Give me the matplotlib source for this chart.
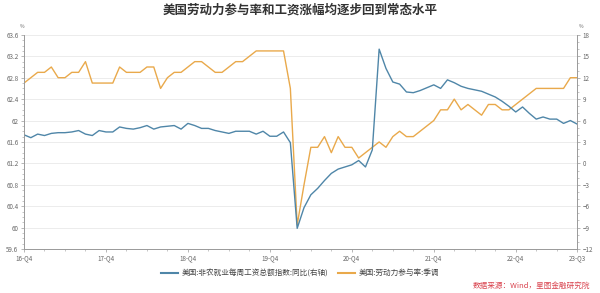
import matplotlib
matplotlib.use("Agg")
import matplotlib.pyplot as plt
from matplotlib.ticker import MultipleLocator

plt.rcParams['font.family'] = ['Noto Sans CJK SC', 'DejaVu Sans']

# monthly, 2016-12 .. 2023-09
tick_labels = ['16-Q4', '17-Q4', '18-Q4', '19-Q4', '20-Q4', '21-Q4', '22-Q4', '23-Q3']
tick_pos = [0, 12, 24, 36, 48, 60, 72, 81]

# 美国:劳动力参与率:季调 (left axis, %)
lfpr = [62.7, 62.8, 62.9, 62.9, 63.0, 62.8, 62.8, 62.9, 62.9, 63.1,
        62.7, 62.7, 62.7, 62.7, 63.0, 62.9, 62.9, 62.9, 63.0, 63.0,
        62.6, 62.8, 62.9, 62.9, 63.0, 63.1, 63.1, 63.0, 62.9, 62.9,
        63.0, 63.1, 63.1, 63.2, 63.3, 63.3, 63.3, 63.3, 63.3, 62.6,
        60.05, 60.8, 61.5, 61.5, 61.7, 61.4, 61.7, 61.5, 61.5, 61.3,
        61.4, 61.5, 61.6, 61.5, 61.7, 61.8, 61.7, 61.7, 61.8, 61.9,
        62.0, 62.2, 62.2, 62.4, 62.2, 62.3, 62.2, 62.1, 62.3, 62.3,
        62.2, 62.2, 62.3, 62.4, 62.5, 62.6, 62.6, 62.6, 62.6, 62.6,
        62.8, 62.8]

# 美国:非农就业每周工资总额指数:同比 (right axis, %)
payroll_yoy = [4.0, 3.6, 4.1, 3.9, 4.2, 4.3, 4.3, 4.4, 4.6, 4.1,
               3.9, 4.6, 4.4, 4.4, 5.1, 4.9, 4.8, 5.0, 5.3, 4.8,
               5.1, 5.2, 5.3, 4.8, 5.6, 5.3, 4.9, 4.9, 4.6, 4.4,
               4.2, 4.5, 4.5, 4.5, 4.1, 4.5, 3.8, 3.8, 4.4, 2.9,
               -9.1, -6.2, -4.4, -3.5, -2.4, -1.4, -0.8, -0.5, -0.2, 0.4,
               -0.5, 1.9, 16.0, 13.3, 11.4, 11.1, 10.0, 9.9, 10.2, 10.6,
               11.0, 10.5, 11.7, 11.3, 10.8, 10.5, 10.3, 10.1, 9.7, 9.3,
               8.7, 8.0, 7.2, 7.9, 7.0, 6.2, 6.5, 6.2, 6.2, 5.6,
               6.0, 5.5]

blue = '#4f86a8'
orange = '#e9a94b'
axis_c = '#9a9a9a'
text_c = '#666666'

fig = plt.figure(figsize=(6, 2.93), dpi=100)
ax = fig.add_axes([0.04, 0.15, 0.922, 0.731])
ax2 = ax.twinx()

x = list(range(len(lfpr)))
ax2.plot(x, payroll_yoy, color=blue, lw=1.0)
ax.plot(x, lfpr, color=orange, lw=1.0)

ax.set_xlim(0, 81)
ax.set_ylim(59.6, 63.6)
ax2.set_ylim(-12, 18)
ax.yaxis.set_major_locator(MultipleLocator(0.4))
ax.yaxis.set_minor_locator(MultipleLocator(0.1))
ax2.yaxis.set_major_locator(MultipleLocator(3))
ax2.yaxis.set_minor_locator(MultipleLocator(1))
ax.set_yticks([59.6, 60, 60.4, 60.8, 61.2, 61.6, 62, 62.4, 62.8, 63.2, 63.6])
ax.set_yticklabels(['59.6', '60', '60.4', '60.8', '61.2', '61.6', '62', '62.4', '62.8', '63.2', '63.6'])
ax.set_xticks(tick_pos)
ax.set_xticklabels(tick_labels)
ax.xaxis.set_minor_locator(MultipleLocator(3))

ax.grid(axis='y', color='#ececec', lw=0.7)
ax.set_axisbelow(True)

for a in (ax, ax2):
    a.spines['top'].set_visible(False)
    for s in ('left', 'right', 'bottom'):
        a.spines[s].set_color(axis_c)
        a.spines[s].set_linewidth(0.6)
    a.tick_params(which='major', length=2.5, width=0.5, color=axis_c,
                  labelsize=4.5, labelcolor=text_c, pad=1.5)
    a.tick_params(which='minor', length=1.3, width=0.4, color=axis_c)

fig.text(0.5, 0.965, '美国劳动力参与率和工资涨幅均逐步回到常态水平', ha='center', va='center',
         fontsize=9, fontweight='bold', color='#333333')
fig.text(0.037, 0.905, '%', fontsize=3.5, color=text_c, ha='center')
fig.text(0.968, 0.905, '%', fontsize=3.5, color=text_c, ha='center')

h1, = ax2.plot([], [], color=blue, lw=1.5)
h2, = ax.plot([], [], color=orange, lw=1.5)
fig.legend([h1, h2], ['美国:非农就业每周工资总额指数:同比(右轴)', '美国:劳动力参与率:季调'],
           loc='center', bbox_to_anchor=(0.5, 0.068), ncol=2, frameon=False,
           fontsize=5.5, handlelength=2.2, columnspacing=1.2, handletextpad=0.5,
           labelcolor='#444444')

fig.text(0.983, 0.024, '数据来源：Wind，星图金融研究院', ha='right', va='center',
         fontsize=5.5, color='#d9434e', style='italic')

fig.savefig('out.png', dpi=100)
